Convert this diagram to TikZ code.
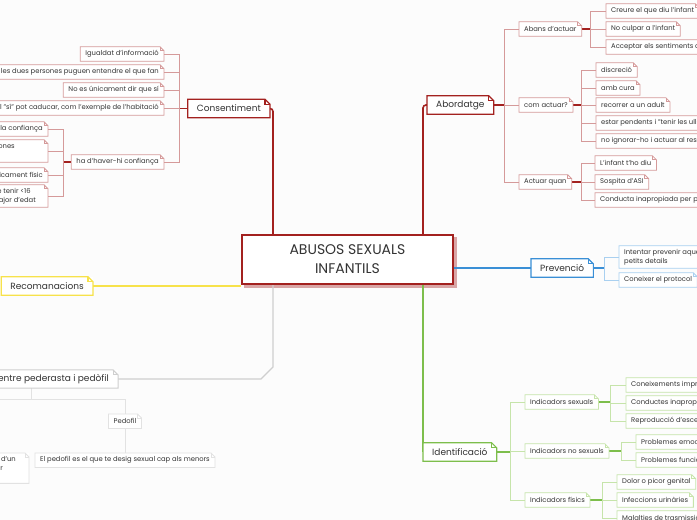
\documentclass[tikz,border=0pt]{standalone}
\usepackage{fontspec}
\setmainfont{Poppins}
\usetikzlibrary{calc,backgrounds}
\definecolor{bgc}{HTML}{FCFCFC}
\definecolor{txt}{HTML}{333333}
\definecolor{dred}{HTML}{A3211F}
\definecolor{lred}{HTML}{D59A9A}
\definecolor{rshad}{HTML}{D9A6A6}
\definecolor{blu}{HTML}{3A8FD6}
\definecolor{lblu}{HTML}{A9D0F0}
\definecolor{yel}{HTML}{F7E24B}
\definecolor{gre}{HTML}{7DBE4C}
\definecolor{lgre}{HTML}{C6E4AA}
\definecolor{gry}{HTML}{CFCFCF}
\definecolor{lgry}{HTML}{E2E2E2}
\newcommand\foldit[3]{%
  \draw[#1] (#2.south west) -- (#2.north west) -- ([xshift=-#3]#2.north east) -- ([yshift=-#3]#2.north east) -- (#2.south east) -- cycle;
  \draw[#1] ([xshift=-#3]#2.north east) |- ([yshift=-#3]#2.north east);}
\tikzset{
  ch/.style={fill=white, inner xsep=5pt, inner ysep=0pt, minimum height=14pt, font=\fontsize{6.8}{9}\selectfont, text=txt},
  chtwo/.style={ch, align=left, inner ysep=3pt},
  tp/.style={fill=white, inner xsep=9pt, inner ysep=0pt, minimum height=18pt, font=\fontsize{9}{11}\selectfont, text=txt},
  cen/.style={draw=dred, line width=1.3pt, fill=white, minimum width=211pt, minimum height=49pt, align=center, font=\fontsize{14}{19}\selectfont, text=txt},
  rbx/.style={draw=lred, line width=0.8pt},
  rtp/.style={draw=dred, line width=1.2pt},
  bbx/.style={draw=lblu, line width=0.8pt},
  btp/.style={draw=blu, line width=1.2pt},
  gbx/.style={draw=lgre, line width=0.8pt},
  gtp/.style={draw=gre, line width=1.2pt},
  ybx/.style={draw=yel, line width=1.2pt},
  ybt/.style={draw=gry, line width=1pt},
  ylb/.style={draw=lgry, line width=0.8pt},
  dstub/.style={dred, line width=1.2pt},
  lbr/.style={lred, line width=0.9pt},
}
\begin{document}
\begin{tikzpicture}[x=1pt,y=-1pt]
\useasboundingbox (0,0) rectangle (697,520);
\begin{scope}[on background layer]
\fill[bgc] (0,0) rectangle (697,520);
\end{scope}
% central
\node[cen] (c) at (347.5,259.5) {ABUSOS SEXUALS\\INFANTILS};
\coordinate (k1) at (273,0);
\coordinate (k2) at (423,0);
% main topics
\node[tp, anchor=east] (cons) at (270,108.5) {Consentiment};
\node[tp, anchor=west] (abo) at (427,105) {Abordatge};
\node[tp, anchor=west] (pre) at (531,268) {Prevenció};
\node[tp, anchor=east] (rec) at (93,286) {Recomanacions};
\node[tp, anchor=west] (ide) at (423,452) {Identificació};
\node[tp, anchor=east] (dif) at (118,379) {Diferència entre pederasta i pedòfil};
% Consentiment children
\node[ch, anchor=east] (c1) at (164,54) {Igualdat d'informació};
\node[ch, anchor=east] (c2) at (164,72) {Que les dues persones puguen entendre el que fan};
\node[ch, anchor=east] (c3) at (164,90) {No es únicament dir que sí};
\node[ch, anchor=east] (c4) at (164,108) {El "sí" pot caducar, com l'exemple de l'habitació};
\node[ch, anchor=east] (c5) at (164,162) {ha d'haver-hi confiança};
\node[ch, anchor=east] (d1) at (48,129) {Es pot abusar de la confiança};
\node[chtwo, anchor=east] (d2) at (48,151) {Sovint l'abús el cometen persones\hspace*{28pt}\\conegudes};
\node[ch, anchor=east] (d3) at (48,175) {No és únicament físic};
\node[chtwo, anchor=east] (d4) at (48,196) {Per ser abús, la víctima ha de tenir <16\\anys i l'agressor ha de ser major d'edat\hspace*{7pt}};
% Abordatge children
\node[ch, anchor=west] (a1) at (519,29) {Abans d'actuar};
\node[ch, anchor=west] (a2) at (519,105) {com actuar?};
\node[ch, anchor=west] (a3) at (519,182) {Actuar quan};
\node[ch, anchor=west] (e1) at (606,11) {Creure el que diu l'infant};
\node[ch, anchor=west] (e2) at (606,29) {No culpar a l'infant};
\node[ch, anchor=west] (e3) at (606,47) {Acceptar els sentiments de l'infant};
\node[ch, anchor=west] (f1) at (596,70) {discreció};
\node[ch, anchor=west] (f2) at (596,88) {amb cura};
\node[ch, anchor=west] (f3) at (596,105) {recorrer a un adult};
\node[ch, anchor=west] (f4) at (596,123) {estar pendents i "tenir les ulls oberts"};
\node[ch, anchor=west] (f5) at (596,141) {no ignorar-ho i  actuar al respecte};
\node[ch, anchor=west] (g1) at (595,163) {L'infant t'ho diu};
\node[ch, anchor=west] (g2) at (595,182) {Sospita d'ASI};
\node[ch, anchor=west] (g3) at (595,200) {Conducta inapropiada per part de l'infant};
% Prevencio children
\node[chtwo, anchor=west] (p1) at (619,257) {Intentar prevenir aquests casos amb\\petits details};
\node[ch, anchor=west] (p2) at (619,280) {Coneixer el protocol};
% Identificacio children
\node[ch, anchor=west] (s1) at (525,402) {Indicadors sexuals};
\node[ch, anchor=west] (s2) at (525,451) {Indicadors no sexuals};
\node[ch, anchor=west] (s3) at (525,500) {Indicadors físics};
\node[ch, anchor=west] (t1) at (626,385) {Coneixements impropis per a la seva edat};
\node[ch, anchor=west] (t2) at (626,403) {Conductes inapropiades};
\node[ch, anchor=west] (t3) at (626,421) {Reproducció d'escenes sexuals};
\node[ch, anchor=west] (u1) at (636,442) {Problemes emocionals};
\node[ch, anchor=west] (u2) at (636,460) {Problemes funcionals};
\node[ch, anchor=west] (v1) at (617,482) {Dolor o picor genital};
\node[ch, anchor=west] (v2) at (617,500) {Infeccions urinàries};
\node[ch, anchor=west] (v3) at (617,518) {Malalties de trasmissió sexual};
% Diferencia children
\node[ch, anchor=north] (pdf) at (125,414) {Pedofil};
\node[ch, anchor=north] (pdfc) at (125,453) {El pedofil es el que te desig sexual cap als menors};
\node[chtwo, anchor=north east, align=right, font=\fontsize{6.8}{9.3}\selectfont] (pdrc) at (29,453) {El pederasta és aquell que comet l'abús sexual a partir d'un\hbox to 8pt{}\\desig sexual cap a un menor\hbox to 21pt{}\\d'edat\hbox to 70pt{}};
% junctions
\coordinate (j1) at (179,108.5);
\coordinate (j2) at (63,162);
\coordinate (j3) at (504,105);
\coordinate (j4) at (590,29);
\coordinate (j5) at (581,105);
\coordinate (j6) at (581,182);
\coordinate (j7) at (604,268);
\coordinate (j8) at (510,452);
\coordinate (j9) at (610,402);
\coordinate (j10) at (621,451);
\coordinate (j11) at (602,500);
\coordinate (gj) at (31,399);
\coordinate (pedr) at (-60,399);
\coordinate (gk1) at (273,367);
\coordinate (gk2) at (261,379);
% folds / borders
\foreach \n in {c1,c2,c3,c4,c5,d1,d2,d3,d4,a1,a2,a3,e1,e2,e3,f1,f2,f3,f4,f5,g1,g2,g3} {\foldit{rbx}{\n}{4pt}}
\foreach \n in {cons,abo} {\foldit{rtp}{\n}{5pt}}
\foldit{btp}{pre}{5pt}
\foreach \n in {p1,p2} {\foldit{bbx}{\n}{4pt}}
\foldit{gtp}{ide}{5pt}
\foreach \n in {s1,s2,s3,t1,t2,t3,u1,u2,v1,v2,v3} {\foldit{gbx}{\n}{4pt}}
\foldit{ybx}{rec}{5pt}
\foldit{ybt}{dif}{5pt}
\foreach \n in {pdf,pdfc,pdrc} {\foldit{ylb}{\n}{4pt}}
% connectors and shadows
\begin{scope}[on background layer]
\fill[rshad] ([xshift=3pt,yshift=-3pt]c.south west) rectangle ([xshift=3pt,yshift=-3pt]c.north east);
\draw[dred, line width=1.6pt, rounded corners=3pt] (cons.east) -| (c.north -| k1);
\draw[dred, line width=1.6pt, rounded corners=3pt] (c.north -| k2) |- (abo.west);
\draw[gre, line width=1.4pt] (c.south -| ide.west) -- (ide.west);
\draw[blu, line width=1.4pt] (pre.west -| c.east) -- (pre.west);
\draw[yel, line width=1.6pt] (rec.east) -- (rec.east -| c.west);
\draw[gry, line width=1.4pt] (c.south -| gk1) -- (gk1) -- (gk2) -- (dif.east);
% consentiment
\draw[dstub] (cons.west) -- (j1);
\foreach \n in {c1,c2,c3,c4,c5} {\draw[lbr] (j1) |- (\n.east);}
\draw[dstub] (c5.west) -- (j2);
\foreach \n in {d1,d2,d3,d4} {\draw[lbr] (j2) |- (\n.east);}
% abordatge
\draw[dstub] (abo.east) -- (j3);
\foreach \n in {a1,a2,a3} {\draw[lbr] (j3) |- (\n.west);}
\draw[dstub] (a1.east) -- (j4);
\foreach \n in {e1,e2,e3} {\draw[lbr] (j4) |- (\n.west);}
\draw[dstub] (a2.east) -- (j5);
\foreach \n in {f1,f2,f3,f4,f5} {\draw[lbr] (j5) |- (\n.west);}
\draw[dstub] (a3.east) -- (j6);
\foreach \n in {g1,g2,g3} {\draw[lbr] (j6) |- (\n.west);}
% prevencio
\draw[blu, line width=1.2pt] (pre.east) -- (j7);
\foreach \n in {p1,p2} {\draw[lblu, line width=0.9pt] (j7) |- (\n.west);}
% identificacio
\draw[gre, line width=1.2pt] (ide.east) -- (j8);
\foreach \n in {s1,s2,s3} {\draw[lgre, line width=0.9pt] (j8) |- (\n.west);}
\draw[gre, line width=1.2pt] (s1.east) -- (j9);
\foreach \n in {t1,t2,t3} {\draw[lgre, line width=0.9pt] (j9) |- (\n.west);}
\draw[gre, line width=1.2pt] (s2.east) -- (j10);
\foreach \n in {u1,u2} {\draw[lgre, line width=0.9pt] (j10) |- (\n.west);}
\draw[gre, line width=1.2pt] (s3.east) -- (j11);
\foreach \n in {v1,v2,v3} {\draw[lgre, line width=0.9pt] (j11) |- (\n.west);}
% diferencia
\draw[lgry, line width=0.9pt] (dif.south -| gj) -- (gj);
\draw[lgry, line width=0.9pt] (gj) -| (pdf.north);
\draw[lgry, line width=0.9pt] (gj) -- (pedr);
\draw[lgry, line width=0.9pt] (pdf.south) -- (pdfc.north);
\end{scope}
\end{tikzpicture}
\end{document}
